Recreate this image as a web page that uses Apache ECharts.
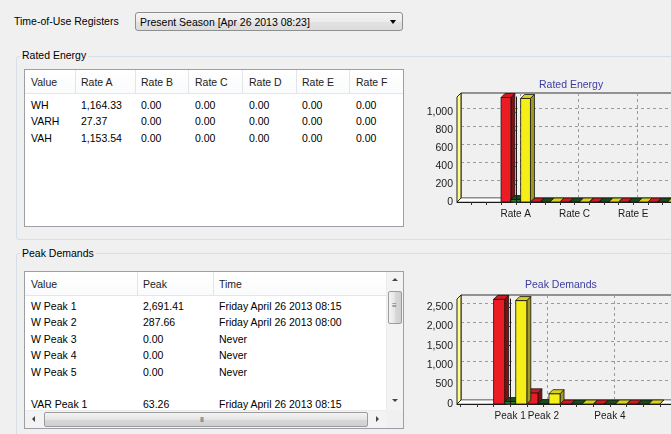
<!DOCTYPE html>
<html>
<head>
<meta charset="utf-8">
<script src="https://cdn.jsdelivr.net/npm/echarts@6/dist/echarts.min.js"></script>
<style>
  body { margin: 0; width: 671px; height: 434px; overflow: hidden; position: relative;
         background: #f0f0f0; font-family: 'Liberation Sans', Arial, sans-serif; font-size: 10.5px; color: #000; }
  .abs { position: absolute; white-space: nowrap; line-height: 12px; }
  .combo { position: absolute; left: 135px; top: 12px; width: 268px; height: 19px; box-sizing: border-box;
           border: 1px solid #8e8f8f; border-radius: 3px; background: linear-gradient(#f4f4f4, #ececec 50%, #e2e2e2 51%, #dcdcdc); }
  .combo .txt { position: absolute; left: 4px; top: 3px; line-height: 12px; }
  .combo .arrow { position: absolute; left: 254px; top: 7px; width: 0; height: 0;
                  border-left: 3.5px solid transparent; border-right: 3.5px solid transparent; border-top: 4px solid #000; }
  .group { position: absolute; border: 1px solid #d5dfe5; border-radius: 3px; }
  .gtitle { position: absolute; background: #f0f0f0; padding: 0 2px; line-height: 12px; }
  .table { position: absolute; background: #fff; border: 1px solid #9ba0a6; box-sizing: border-box; overflow: hidden; }
  .thead { position: absolute; left: 0; top: 0; right: 0; height: 24px; border-bottom: 1px solid #e6e6e6;
           background: linear-gradient(#ffffff, #fafbfc); box-sizing: border-box; }
  .sep { position: absolute; top: 0; width: 1px; height: 23px; background: #e3e5e8; }
  .cell { position: absolute; white-space: nowrap; line-height: 12px; }
  .hcell { color: #222; }
  .vscroll { position: absolute; left: 361px; top: 0px; width: 16px; height: 138px; background: #f3f3f3; border-left: 1px solid #ececec; }
  .hscroll { position: absolute; left: 0px; top: 138px; width: 361px; height: 17px; background: #f3f3f3; border-top: 1px solid #ececec; }
  .corner { position: absolute; left: 361px; top: 138px; width: 17px; height: 18px; background: #f0f0f0; }
  .thumbv { position: absolute; left: 1px; top: 19px; width: 14px; height: 33px; box-sizing: border-box; border: 1px solid #9c9c9c;
            border-radius: 2px; background: linear-gradient(90deg, #f4f4f4, #e4e4e4 50%, #d8d8d8 51%, #cfcfcf); }
  .thumbh { position: absolute; left: 19px; top: 1px; width: 324px; height: 15px; box-sizing: border-box; border: 1px solid #9c9c9c;
            border-radius: 2px; background: linear-gradient(#f4f4f4, #e4e4e4 50%, #d8d8d8 51%, #cfcfcf); }
  .grip { position: absolute; color: #666; font-size: 8px; line-height: 8px; }
  .tri { position: absolute; width: 0; height: 0; }
  #chartRated { position: absolute; left: 410px; top: 60px; width: 261px; height: 175px; }
  #chartPeak { position: absolute; left: 410px; top: 265px; width: 261px; height: 169px; }
</style>
</head>
<body>
<div class="abs" style="left:14px;top:15px;">Time-of-Use Registers</div>
<div class="combo"><span class="txt">Present Season [Apr 26 2013 08:23]</span><span class="arrow"></span></div>

<div class="group" style="left:16px;top:56px;width:700px;height:182px;"></div>
<div class="gtitle" style="left:20px;top:49px;">Rated Energy</div>
<div class="table" id="tableRated" style="left:24px;top:69px;width:380px;height:158px;"></div>

<div class="group" style="left:16px;top:253px;width:700px;height:220px;"></div>
<div class="gtitle" style="left:20px;top:247px;">Peak Demands</div>
<div class="table" id="tablePeak" style="left:24px;top:271px;width:380px;height:158px;"></div>

<div id="chartRated"></div>
<div id="chartPeak"></div>

<script>
// ---- data ----
const rateCategories = ['Rate A', 'Rate B', 'Rate C', 'Rate D', 'Rate E', 'Rate F'];
const whByRate = [1164.33, 0, 0, 0, 0, 0];
const varhByRate = [27.37, 0, 0, 0, 0, 0];
const vahByRate = [1153.54, 0, 0, 0, 0, 0];
const ratedRowNames = ['WH', 'VARH', 'VAH'];

const peakCategories = ['Peak 1', 'Peak 2', 'Peak 3', 'Peak 4', 'Peak 5'];
const wPeaks = [2691.41, 287.66, 0, 0, 0];
const varPeaks = [63.26, 10, 0, 0, 0];     // peak 2 only visible in chart, estimated
const vaPeaks = [2660, 265, 0, 0, 0];      // not in visible table rows, estimated from chart
const wPeakTimes = ['Friday April 26 2013 08:15', 'Friday April 26 2013 08:00', 'Never', 'Never', 'Never'];
const varPeakTimes = ['Friday April 26 2013 08:15'];

const ratedLabelTicks = [0, 2, 4];
const ratedGridTicks = [0, 2, 4];
const peakLabelTicks = [0, 1, 3];
const peakGridTicks = [1, 3, 5];

const fmt = v => v.toLocaleString('en-US', { minimumFractionDigits: 2, maximumFractionDigits: 2 });

// ---- tables ----
function addCell(parent, x, y, text, cls) {
    const d = document.createElement('div');
    d.className = 'cell ' + (cls || '');
    d.style.left = x + 'px';
    d.style.top = y + 'px';
    d.textContent = text;
    parent.appendChild(d);
}

(function buildRated() {
    const t = document.getElementById('tableRated');
    const head = document.createElement('div');
    head.className = 'thead';
    t.appendChild(head);
    [50, 110, 163, 217, 271, 324, 378].forEach(x => {
        const s = document.createElement('div'); s.className = 'sep'; s.style.left = x + 'px'; head.appendChild(s);
    });
    const colX = [6, 56, 116, 170, 224, 277, 331];
    addCell(t, colX[0], 6, 'Value', 'hcell');
    rateCategories.forEach((c, i) => addCell(t, colX[i + 1], 6, c, 'hcell'));
    const rows = [whByRate, varhByRate, vahByRate];
    rows.forEach((vals, r) => {
        const y = 28.5 + r * 16.5;
        addCell(t, colX[0], y, ratedRowNames[r]);
        vals.forEach((v, i) => addCell(t, colX[i + 1], y, fmt(v)));
    });
})();

(function buildPeak() {
    const t = document.getElementById('tablePeak');
    const head = document.createElement('div');
    head.className = 'thead';
    t.appendChild(head);
    [112, 188].forEach(x => {
        const s = document.createElement('div'); s.className = 'sep'; s.style.left = x + 'px'; head.appendChild(s);
    });
    const colX = [6, 118, 194];
    addCell(t, colX[0], 6, 'Value', 'hcell');
    addCell(t, colX[1], 6, 'Peak', 'hcell');
    addCell(t, colX[2], 6, 'Time', 'hcell');
    wPeaks.forEach((v, i) => {
        const y = 28 + i * 16.4;
        addCell(t, colX[0], y, 'W ' + peakCategories[i]);
        addCell(t, colX[1], y, fmt(v));
        addCell(t, colX[2], y, wPeakTimes[i]);
    });
    const yv = 28 + 6 * 16.4;
    addCell(t, colX[0], yv, 'VAR ' + peakCategories[0]);
    addCell(t, colX[1], yv, fmt(varPeaks[0]));
    addCell(t, colX[2], yv, varPeakTimes[0]);

    // scrollbars
    const vs = document.createElement('div'); vs.className = 'vscroll'; t.appendChild(vs);
    vs.innerHTML = '<div class="tri" style="left:5px;top:6px;border-left:3px solid transparent;border-right:3px solid transparent;border-bottom:3px solid #444;"></div>' +
        '<div class="thumbv"><div class="grip" style="left:3px;top:10px;">&#8801;</div></div>' +
        '<div class="tri" style="left:5px;top:127px;border-left:3px solid transparent;border-right:3px solid transparent;border-top:3px solid #444;"></div>';
    const hs = document.createElement('div'); hs.className = 'hscroll'; t.appendChild(hs);
    hs.innerHTML = '<div class="tri" style="left:7px;top:5px;border-top:3px solid transparent;border-bottom:3px solid transparent;border-right:3px solid #444;"></div>' +
        '<div class="thumbh"><div class="grip" style="left:155px;top:3px;font-size:7px;letter-spacing:-1px;">III</div></div>' +
        '<div class="tri" style="left:351px;top:5px;border-top:3px solid transparent;border-bottom:3px solid transparent;border-left:3px solid #444;"></div>';
    const cn = document.createElement('div'); cn.className = 'corner'; t.appendChild(cn);
})();

// ---- 3D-looking bar charts ----
const DX = 4, DY = -4;
const seriesColors = [
    { front: '#ec1c24', top: '#cf1a20', side: '#7e1014' },
    { front: '#218a2a', top: '#1c4a1c', side: '#0f3512' },
    { front: '#f5ee18', top: '#d8d11e', side: '#9f9a26' }
];
const FONT = "'Liberation Sans', Arial, sans-serif";

function barRenderer(si, n) {
    const c = seriesColors[si];
    return function (params, api) {
        const idx = api.value(0);
        const base = api.coord([idx, 0]);
        const tip = api.coord([idx, api.value(1)]);
        const band = api.size([1, 0])[0];
        const w = band / n;
        const x0 = base[0] - band / 2 + si * w;
        const x1 = x0 + w;
        const yT = tip[1], yB = base[1];
        const line = { stroke: '#111', lineWidth: 0.8 };
        return {
            type: 'group',
            children: [
                { type: 'polygon', shape: { points: [[x1, yT], [x1 + DX, yT + DY], [x1 + DX, yB + DY], [x1, yB]] },
                  style: Object.assign({ fill: c.side }, line) },
                { type: 'rect', shape: { x: x0, y: yT, width: w, height: yB - yT },
                  style: Object.assign({ fill: c.front }, line) },
                { type: 'polygon', shape: { points: [[x0, yT], [x1, yT], [x1 + DX, yT + DY], [x0 + DX, yT + DY]] },
                  style: Object.assign({ fill: c.top }, line) }
            ]
        };
    };
}

function frameRenderer(params) {
    const cs = params.coordSys;
    const L = cs.x, T = cs.y, B = cs.y + cs.height, R = cs.x + cs.width;
    return {
        type: 'group',
        children: [
            { type: 'polygon', shape: { points: [[L, B], [R, B], [R + DX, B + DY], [L + DX, B + DY]] },
              style: { fill: '#ffffff', stroke: '#8a8a8a', lineWidth: 1 } },
            { type: 'polygon', shape: { points: [[L, B], [L, T], [L + DX, T + DY], [L + DX, B + DY]] },
              style: { fill: '#ffff8a', stroke: '#222', lineWidth: 1 } }
        ]
    };
}

function halfSteps(a, b) {
    const out = [];
    for (let v = a; v <= b + 1e-9; v += 0.5) out.push(v);
    return out;
}

function makeChart(el, cfg) {
    const chart = echarts.init(el);
    const frontGrid = { left: 47, right: cfg.right, top: cfg.top, bottom: cfg.bottom, outerBoundsMode: 'none', containLabel: false };
    const backGrid = { left: 47 + DX, right: cfg.right - DX, top: cfg.top + DY, bottom: cfg.bottom - DY,
                       outerBoundsMode: 'none', containLabel: false,
                       show: true, borderColor: '#333', borderWidth: 1, backgroundColor: 'transparent' };
    const series = [{
        type: 'custom', xAxisIndex: 0, yAxisIndex: 0, z: 1, silent: true,
        renderItem: frameRenderer, data: [[cfg.xMin, 0]], clip: false
    }];
    cfg.values.forEach((vals, si) => {
        series.push({
            type: 'custom', xAxisIndex: 0, yAxisIndex: 0, z: 3 + si, clip: false,
            renderItem: barRenderer(si, cfg.values.length),
            data: vals.map((v, i) => [i, v])
        });
    });
    chart.setOption({
        animation: false,
        title: {
            text: cfg.title, left: cfg.titleLeft, top: cfg.titleTop,
            textStyle: { fontFamily: FONT, fontSize: 10.5, fontWeight: 'normal', color: '#3c3ca0' }
        },
        grid: [frontGrid, backGrid],
        xAxis: [
            {
                type: 'value', gridIndex: 0, min: cfg.xMin, max: cfg.xMax, z: 6,
                axisLine: { show: true, lineStyle: { color: '#1a1a1a', width: 1 } },
                axisTick: { show: true, length: 3, lineStyle: { color: '#333' }, customValues: halfSteps(-1.5, cfg.xMax) },
                axisLabel: {
                    customValues: cfg.labelTicks, margin: 7, hideOverlap: false,
                    fontFamily: FONT, fontSize: 10, color: '#1a1a1a',
                    formatter: v => cfg.categories[Math.round(v)] || ''
                },
                splitLine: { show: false }
            },
            {
                type: 'value', gridIndex: 1, min: cfg.xMin, max: cfg.xMax,
                axisLine: { show: false }, axisLabel: { show: false },
                axisTick: { show: false, customValues: cfg.gridTicks },
                splitLine: { show: true, lineStyle: { color: '#9a9a9a', type: [3, 3], width: 1 } }
            }
        ],
        yAxis: [
            {
                type: 'value', gridIndex: 0, min: 0, max: cfg.yMax, interval: cfg.yInterval, z: 6,
                axisLine: { show: true, lineStyle: { color: '#1a1a1a', width: 1 } },
                axisTick: { show: true, length: 3, lineStyle: { color: '#333' } },
                axisLabel: {
                    margin: 4, showMaxLabel: false,
                    fontFamily: FONT, fontSize: 10.5, color: '#1a1a1a',
                    formatter: v => v.toLocaleString('en-US')
                },
                splitLine: { show: false }
            },
            {
                type: 'value', gridIndex: 1, min: 0, max: cfg.yMax, interval: cfg.yInterval,
                axisLine: { show: false }, axisLabel: { show: false }, axisTick: { show: false },
                splitLine: { show: true, showMinLine: false, showMaxLine: false,
                             lineStyle: { color: '#9a9a9a', type: [3, 3], width: 1 } }
            }
        ],
        series: series
    });
    return chart;
}

makeChart(document.getElementById('chartRated'), {
    title: 'Rated Energy', titleLeft: 124, titleTop: 15,
    categories: rateCategories,
    values: [whByRate, varhByRate, vahByRate],
    xMin: -2, xMax: 6, right: -21, top: 37, bottom: 33,
    yMax: 1170, yInterval: 200,
    labelTicks: ratedLabelTicks, gridTicks: ratedGridTicks
});

makeChart(document.getElementById('chartPeak'), {
    title: 'Peak Demands', titleLeft: 110, titleTop: 10,
    categories: peakCategories,
    values: [wPeaks, varPeaks, vaPeaks],
    xMin: -1.6, xMax: 5.5, right: -22, top: 34, bottom: 30,
    yMax: 2700, yInterval: 500,
    labelTicks: peakLabelTicks, gridTicks: peakGridTicks
});
</script>
</body>
</html>
